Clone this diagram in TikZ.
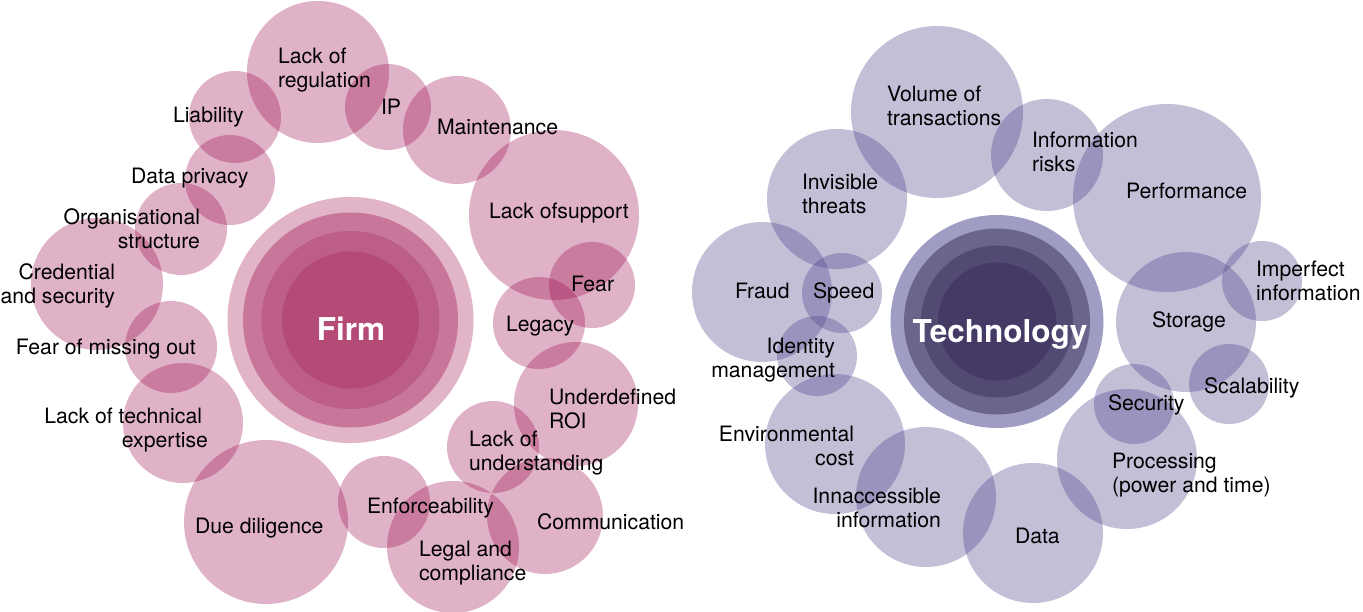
\documentclass[tikz,border=0pt]{standalone}
\usepackage{fontspec}
\setmainfont{TeX Gyre Heros}
\definecolor{firmbase}{RGB}{152,0,68}
\definecolor{techbase}{RGB}{70,61,134}
\definecolor{firmA}{RGB}{226,180,199}
\definecolor{firmB}{RGB}{200,118,153}
\definecolor{firmC}{RGB}{189,94,134}
\definecolor{firmD}{RGB}{180,74,118}
\definecolor{techA}{RGB}{160,157,196}
\definecolor{techB}{RGB}{107,101,140}
\definecolor{techC}{RGB}{82,74,114}
\definecolor{techD}{RGB}{68,58,101}
\newcommand\twoL[2]{\begin{tabular}[t]{@{}l@{}}#1\\#2\end{tabular}}
\newcommand\twoR[2]{\begin{tabular}[t]{@{}r@{}}#1\\#2\end{tabular}}
\tikzset{
  fbub/.style={fill=firmbase, fill opacity=0.3},
  tbub/.style={fill=techbase, fill opacity=0.33},
  lbl/.style={inner sep=0pt, outer sep=0pt, text=black, font=\fontsize{21.2}{24}\selectfont},
  ttl/.style={inner sep=0pt, outer sep=0pt, text=white, font=\fontsize{31.5}{36}\selectfont\bfseries},
}
\begin{document}
\begin{tikzpicture}[x=1pt,y=-1pt]
\useasboundingbox (0,0) rectangle (1363,612);
% ---------- Firm centre ----------
\fill[firmA] (350.5,320) circle (123);
\fill[firmB] (350.5,320) circle (107.5);
\fill[firmC] (350.5,320) circle (89);
\fill[firmD] (350.5,320) circle (68.5);
% ---------- Firm bubbles ----------
\fill[fbub] (318,72) circle (71);
\fill[fbub] (235,117) circle (46);
\fill[fbub] (230,180) circle (45);
\fill[fbub] (181,229) circle (46);
\fill[fbub] (97,284) circle (66);
\fill[fbub] (171,347) circle (46);
\fill[fbub] (183,423) circle (60);
\fill[fbub] (266,522) circle (82);
\fill[fbub] (384,502) circle (46);
\fill[fbub] (453,547) circle (66);
\fill[fbub] (545,516) circle (58);
\fill[fbub] (493,447) circle (46);
\fill[fbub] (576,404) circle (62);
\fill[fbub] (539,323) circle (46);
\fill[fbub] (592,285) circle (43);
\fill[fbub] (554,215) circle (85);
\fill[fbub] (457,130) circle (54);
\fill[fbub] (388,107) circle (43);
% ---------- Technology centre ----------
\fill[techA] (997,321.5) circle (106.5);
\fill[techB] (997,321.5) circle (93);
\fill[techC] (997,321.5) circle (76);
\fill[techD] (997,321.5) circle (59);
% ---------- Technology bubbles ----------
\fill[tbub] (937,112) circle (86);
\fill[tbub] (837,199) circle (70);
\fill[tbub] (762,292) circle (70);
\fill[tbub] (842,293) circle (40);
\fill[tbub] (817,356) circle (40);
\fill[tbub] (835,444) circle (70);
\fill[tbub] (926,497) circle (70);
\fill[tbub] (1033,533) circle (70);
\fill[tbub] (1127,459) circle (70);
\fill[tbub] (1134,404) circle (40);
\fill[tbub] (1229,384) circle (40);
\fill[tbub] (1186,322) circle (70);
\fill[tbub] (1262,281) circle (40);
\fill[tbub] (1167,198) circle (94);
\fill[tbub] (1047,155) circle (56);
% ---------- Firm labels ----------
\node[ttl, anchor=base] (firm) at (351,341) {Firm};
\node[lbl, anchor=base west] (lreg) at (278,64) {\twoL{Lack of}{regulation}};
\node[lbl, anchor=base west] (ip) at (381,115) {IP};
\node[lbl, anchor=base west] (maint) at (437,135) {Maintenance};
\node[lbl, anchor=base west] (lsup) at (489,219) {Lack ofsupport};
\node[lbl, anchor=base west] (fear) at (571,292) {Fear};
\node[lbl, anchor=base west] (legacy) at (506,331) {Legacy};
\node[lbl, anchor=base west] (roi) at (549,404) {\twoL{Underdefined}{ROI}};
\node[lbl, anchor=base west] (lund) at (469,446) {\twoL{Lack of}{understanding}};
\node[lbl, anchor=base west] (comm) at (537,529) {Communication};
\node[lbl, anchor=base west] (legal) at (419,556) {\twoL{Legal and}{compliance}};
\node[lbl, anchor=base west] (enf) at (367,513) {Enforceability};
\node[lbl, anchor=base west] (due) at (195,533) {Due diligence};
\node[lbl, anchor=base east] (ltech) at (208,423) {\twoR{Lack of technical\hspace*{6pt}}{expertise}};
\node[lbl, anchor=base west] (fomo) at (16,355) {Fear of missing out};
\node[lbl, anchor=base east] (cred) at (115,280) {\twoR{Credential}{and security}};
\node[lbl, anchor=base east] (org) at (200,225) {\twoR{Organisational}{structure}};
\node[lbl, anchor=base west] (dpriv) at (131,184) {Data privacy};
\node[lbl, anchor=base west] (liab) at (173,123) {Liability};
% ---------- Technology labels ----------
\node[ttl, anchor=base] (tech) at (1000,342) {Technology};
\node[lbl, anchor=base west] (vol) at (887,102) {\twoL{Volume of}{transactions}};
\node[lbl, anchor=base west] (inv) at (802,190) {\twoL{Invisible}{threats}};
\node[lbl, anchor=base west] (fraud) at (735,299) {Fraud};
\node[lbl, anchor=base west] (speed) at (813,299) {Speed};
\node[lbl, anchor=base east] (ident) at (835,354) {\twoR{Identity}{management}};
\node[lbl, anchor=base east] (env) at (854,441) {\twoR{Environmental}{cost}};
\node[lbl, anchor=base east] (inacc) at (941,503) {\twoR{Innaccessible}{information}};
\node[lbl, anchor=base west] (data) at (1015,543) {Data};
\node[lbl, anchor=base west] (proc) at (1112,468) {\twoL{Processing}{(power and time)}};
\node[lbl, anchor=base west] (sec) at (1108,410) {Security};
\node[lbl, anchor=base west] (scal) at (1204,393) {Scalability};
\node[lbl, anchor=base west] (stor) at (1152,328) {Storage};
\node[lbl, anchor=base west] (imp) at (1256,277) {\twoL{Imperfect}{information}};
\node[lbl, anchor=base west] (perf) at (1126,199) {Performance};
\node[lbl, anchor=base west] (inf) at (1032,148) {\twoL{Information}{risks}};
\end{tikzpicture}
\end{document}
